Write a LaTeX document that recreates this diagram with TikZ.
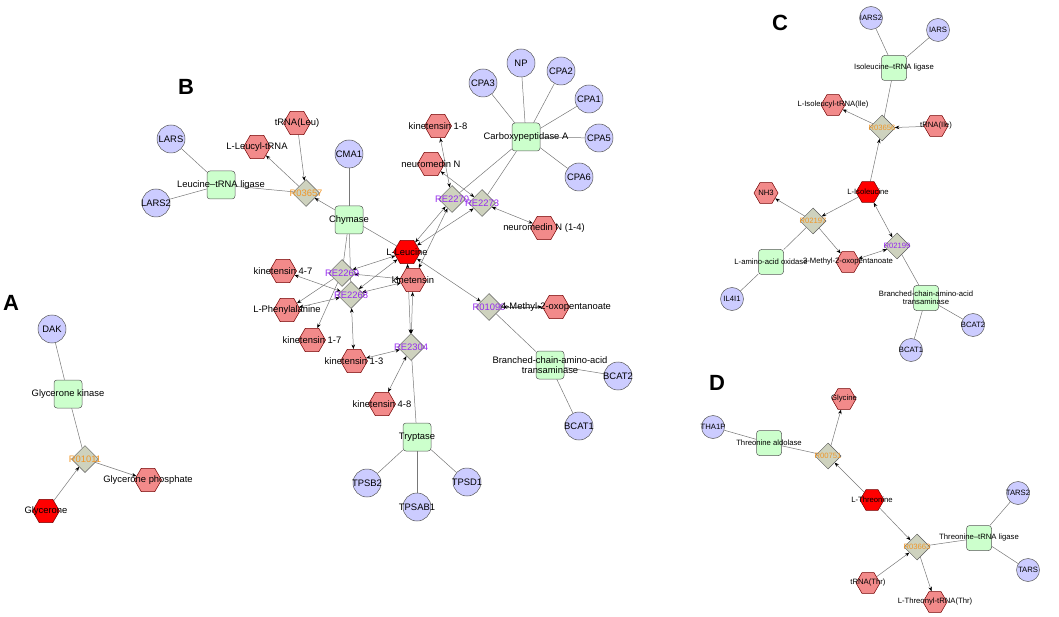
\documentclass[tikz,border=0pt]{standalone}
\usepackage{fontspec}
\setmainfont{Liberation Sans}
\usepackage{tikz}
\usetikzlibrary{shapes.geometric,arrows.meta,backgrounds,positioning}

\definecolor{geneC}{RGB}{204,204,255}
\definecolor{enzC}{RGB}{204,255,204}
\definecolor{metC}{RGB}{242,138,138}
\definecolor{rxnC}{RGB}{206,210,190}
\definecolor{rxnP}{RGB}{150,40,240}
\definecolor{rxnO}{RGB}{240,150,40}
\definecolor{edgeC}{RGB}{120,120,120}

\newcommand\geneSz{28pt}
\newcommand\enzSz{28pt}
\newcommand\metSz{27pt}
\newcommand\rxnSz{27pt}
\newcommand\lblSz{9.4}

\tikzset{
  base/.style={draw=gray!70!black, line width=0.5pt, inner sep=0pt},
  gene/.style={base, circle, fill=geneC, minimum size=\geneSz},
  enz/.style={base, rectangle, rounded corners=3pt, fill=enzC, minimum size=\enzSz},
  met/.style={base, regular polygon, regular polygon sides=6, fill=metC, draw=red!45!black, minimum size=\metSz},
  keymet/.style={met, fill=red},
  rxn/.style={base, diamond, fill=rxnC, minimum size=\rxnSz},
  txt/.style={font=\fontsize{\lblSz}{\lblSz}\selectfont, align=center, inner sep=0pt},
  panel/.style={font=\fontsize{22}{22}\selectfont\bfseries},
}

\begin{document}
\begin{tikzpicture}[x=1pt, y=-1pt, >={Stealth[length=4.5pt,width=3.5pt,color=black]}]
\useasboundingbox (0,0) rectangle (1059,617);

% panel letters
\node[panel] (pA) at (11,303) {A};
\node[panel] (pB) at (186,87) {B};
\node[panel] (pC) at (780,23) {C};
\node[panel] (pD) at (717,383) {D};

% A
\node[gene, label={[txt]center:DAK}] (dak) at (52,329) {};
\node[enz, label={[txt]center:Glycerone kinase}] (gk) at (68,394) {};
\node[rxn, label={[txt,text=rxnO]center:R01011}] (r01011) at (85,459) {};
\node[met, label={[txt]center:Glycerone phosphate}] (gp) at (148,480) {};
\node[keymet, label={[txt]center:Glycerone}] (glyc) at (46,511) {};

% B
\node[gene, label={[txt]center:LARS}] (lars) at (171,139) {};
\node[gene, label={[txt]center:LARS2}] (lars2) at (156,203) {};
\node[enz, label={[txt]center:Leucine–tRNA ligase}] (leuLig) at (221,185) {};
\node[met, label={[txt]center:L-Leucyl-tRNA}] (lleutrna) at (257,147) {};
\node[met, label={[txt]center:tRNA(Leu)}] (trnaleu) at (297,123) {};
\node[rxn, label={[txt,text=rxnO]center:R03657}] (r03657) at (306,193) {};
\node[gene, label={[txt]center:CMA1}] (cma1) at (349,154) {};
\node[enz, label={[txt]center:Chymase}] (chymase) at (349,220) {};
\node[keymet, label={[txt]center:L-Leucine}] (leu) at (407,252) {};
\node[met, label={[txt]center:kinetensin 1-8}] (k18) at (438,126) {};
\node[met, label={[txt]center:neuromedin N}] (neuN) at (431,164) {};
\node[rxn, label={[txt,text=rxnP]center:RE2270}] (re2270) at (452,199) {};
\node[rxn, label={[txt,text=rxnP]center:RE2273}] (re2273) at (482,203) {};
\node[met, label={[txt]center:neuromedin N (1-4)}] (neuN14) at (544,228) {};
\node[enz, label={[txt]center:Carboxypeptidase A}] (cpa) at (526,137) {};
\node[gene, label={[txt]center:CPA3}] (cpa3) at (483,83) {};
\node[gene, label={[txt]center:NP}] (np) at (521,63) {};
\node[gene, label={[txt]center:CPA2}] (cpa2) at (561,71) {};
\node[gene, label={[txt]center:CPA1}] (cpa1) at (589,99) {};
\node[gene, label={[txt]center:CPA5}] (cpa5) at (599,138) {};
\node[gene, label={[txt]center:CPA6}] (cpa6) at (579,177) {};
\node[met, label={[txt]center:kinetensin 4-7}] (k47) at (283,271) {};
\node[met, label={[txt]center:L-Phenylalanine}] (lphe) at (287,310) {};
\node[met, label={[txt]center:kinetensin 1-7}] (k17) at (312,340) {};
\node[met, label={[txt]center:kinetensin 1-3}] (k13) at (354,361) {};
\node[met, label={[txt]center:kinetensin 4-8}] (k48) at (382,404) {};
\node[met, label={[txt]center:kinetensin}] (kin) at (413,280) {};
\node[rxn, label={[txt,text=rxnP]center:RE2269}] (re2269) at (342,273) {};
\node[rxn, label={[txt,text=rxnP]center:RE2268}] (re2268) at (351,295) {};
\node[rxn, label={[txt,text=rxnP]center:RE2304}] (re2304) at (411,347) {};
\node[rxn, label={[txt,text=rxnP]center:R01090}] (r01090) at (489,307) {};
\node[met, label={[txt]center:4-Methyl-2-oxopentanoate}] (mop) at (556,307) {};
\node[enz, label={[txt]center:Branched-chain-amino-acid\\transaminase}] (bcatB) at (550,365) {};
\node[gene, label={[txt]center:BCAT2}] (bcat2B) at (618,376) {};
\node[gene, label={[txt]center:BCAT1}] (bcat1B) at (579,426) {};
\node[enz, label={[txt]center:Tryptase}] (tryp) at (417,437) {};
\node[gene, label={[txt]center:TPSB2}] (tpsb2) at (367,483) {};
\node[gene, label={[txt]center:TPSAB1}] (tpsab1) at (417,507) {};
\node[gene, label={[txt]center:TPSD1}] (tpsd1) at (467,482) {};

\begin{scope}
\renewcommand\geneSz{23pt}\renewcommand\enzSz{25pt}
\renewcommand\metSz{24pt}\renewcommand\rxnSz{26pt}\renewcommand\lblSz{7.7}
% C
\node[gene, label={[txt]center:IARS2}] (iars2) at (871,18) {};
\node[gene, label={[txt]center:IARS}] (iars) at (938,30) {};
\node[enz, label={[txt]center:Isoleucine–tRNA ligase}] (ileLig) at (894,68) {};
\node[met, label={[txt]center:L-Isoleucyl-tRNA(Ile)}] (lilet) at (833,105) {};
\node[rxn, label={[txt,text=rxnO]center:R03656}] (r03656) at (882,128) {};
\node[met, label={[txt]center:tRNA(Ile)}] (trnaile) at (936,126) {};
\node[keymet, label={[txt]center:L-Isoleucine}] (ile) at (868,192) {};
\node[met, label={[txt]center:NH3}] (nh3) at (766,193) {};
\node[rxn, label={[txt,text=rxnO]center:R02197}] (r02197) at (813,221) {};
\node[enz, label={[txt]center:L-amino-acid oxidase}] (laao) at (771,262) {};
\node[met, label={[txt]center:3-Methyl-2-oxopentanoate}] (mop3) at (848,262) {};
\node[rxn, label={[txt,text=rxnP]center:R02199}] (r02199) at (897,246) {};
\node[gene, label={[txt]center:IL4I1}] (il4i1) at (732,299) {};
\node[enz, label={[txt]center:Branched-chain-amino-acid\\transaminase}] (bcatC) at (926,298) {};
\node[gene, label={[txt]center:BCAT2}] (bcat2C) at (973,325) {};
\node[gene, label={[txt]center:BCAT1}] (bcat1C) at (911,350) {};
% D
\node[met, label={[txt]center:Glycine}] (gly) at (844,399) {};
\node[gene, label={[txt]center:THA1P}] (tha1p) at (713,427) {};
\node[enz, label={[txt]center:Threonine aldolase}] (thrAld) at (769,443) {};
\node[rxn, label={[txt,text=rxnO]center:R00751}] (r00751) at (828,456) {};
\node[keymet, label={[txt]center:L-Threonine}] (thr) at (872,500) {};
\node[rxn, label={[txt,text=rxnO]center:R03663}] (r03663) at (917,547) {};
\node[enz, label={[txt]center:Threonine–tRNA ligase}] (thrLig) at (979,538) {};
\node[gene, label={[txt]center:TARS2}] (tars2) at (1018,493) {};
\node[gene, label={[txt]center:TARS}] (tars) at (1028,570) {};
\node[met, label={[txt]center:tRNA(Thr)}] (trnathr) at (868,583) {};
\node[met, label={[txt]center:L-Threonyl-tRNA(Thr)}] (lthrt) at (935,602) {};
\end{scope}

\begin{scope}[on background layer, every path/.style={draw=edgeC, line width=0.5pt}]
 % A
 \draw (dak) -- (gk);
 \draw (gk) -- (r01011);
 \draw[->] (glyc) -- (r01011);
 \draw[->] (r01011) -- (gp);
 % B
 \draw (lars) -- (leuLig);
 \draw (lars2) -- (leuLig);
 \draw (leuLig) -- (r03657);
 \draw[->] (trnaleu) -- (r03657);
 \draw[->] (r03657) -- (lleutrna);
 \draw[->] (leu) -- (r03657);
 \draw (cma1) -- (chymase);
 \draw (chymase) -- (re2269);
 \draw (chymase) -- (re2268);
 \draw[<->] (re2269) -- (leu);
 \draw[<->] (re2268) -- (leu);
 \draw[<->] (re2269) -- (kin);
 \draw[<->] (re2268) -- (kin);
 \draw[<->] (re2268) -- (k47);
 \draw[->] (re2269) -- (lphe);
 \draw[<->] (re2268) -- (lphe);
 \draw[->] (re2269) -- (k17);
 \draw[<->] (re2268) -- (k13);
 \draw[<->] (leu) -- (re2304);
 \draw[<->] (kin) -- (re2304);
 \draw[<->] (re2304) -- (k13);
 \draw[<->] (re2304) -- (k48);
 \draw (re2304) -- (tryp);
 \draw (tryp) -- (tpsb2);
 \draw (tryp) -- (tpsab1);
 \draw (tryp) -- (tpsd1);
 \draw[<->] (leu) -- (r01090);
 \draw[<->] (r01090) -- (mop);
 \draw (r01090) -- (bcatB);
 \draw (bcatB) -- (bcat2B);
 \draw (bcatB) -- (bcat1B);
 \draw[<->] (re2270) -- (leu);
 \draw[<->] (re2270) -- (kin);
 \draw[<->] (re2273) -- (leu);
 \draw[<->] (re2270) -- (k18);
 \draw[<->] (neuN) -- (re2273);
 \draw[<->] (re2273) -- (neuN14);
 \draw (cpa) -- (re2270);
 \draw (cpa) -- (re2273);
 \foreach \g in {cpa3,np,cpa2,cpa1,cpa5,cpa6}
   \draw (cpa) -- (\g);
 % C
 \draw (iars2) -- (ileLig);
 \draw (iars) -- (ileLig);
 \draw (ileLig) -- (r03656);
 \draw[->] (trnaile) -- (r03656);
 \draw[->] (r03656) -- (lilet);
 \draw[->] (ile) -- (r03656);
 \draw[->] (ile) -- (r02197);
 \draw[->] (r02197) -- (nh3);
 \draw[->] (r02197) -- (mop3);
 \draw (laao) -- (r02197);
 \draw (il4i1) -- (laao);
 \draw[<->] (ile) -- (r02199);
 \draw[<->] (r02199) -- (mop3);
 \draw (r02199) -- (bcatC);
 \draw (bcatC) -- (bcat2C);
 \draw (bcatC) -- (bcat1C);
 % D
 \draw (tha1p) -- (thrAld);
 \draw (thrAld) -- (r00751);
 \draw[->] (r00751) -- (gly);
 \draw[->] (thr) -- (r00751);
 \draw[->] (thr) -- (r03663);
 \draw[->] (trnathr) -- (r03663);
 \draw[->] (r03663) -- (lthrt);
 \draw (r03663) -- (thrLig);
 \draw (thrLig) -- (tars2);
 \draw (thrLig) -- (tars);
\end{scope}
\end{tikzpicture}
\end{document}
